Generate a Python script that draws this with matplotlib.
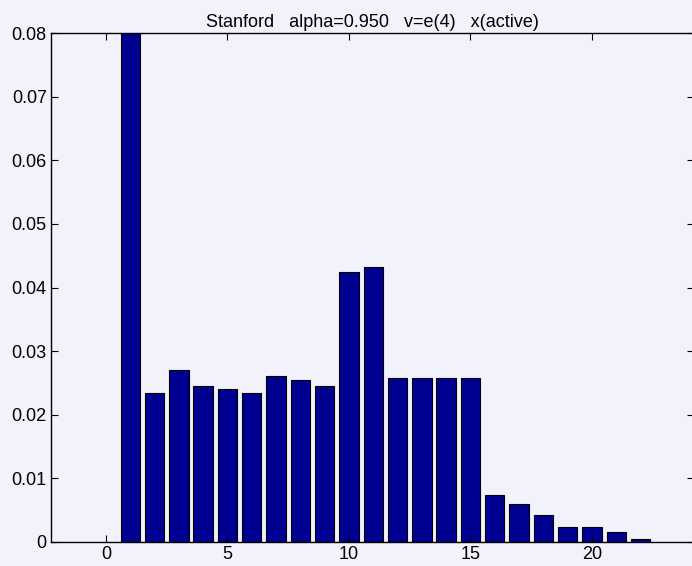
import matplotlib
matplotlib.use("Agg")
import matplotlib.pyplot as plt

plt.rcParams['font.family'] = ['Liberation Sans', 'DejaVu Sans']

positions = list(range(1, 23))
values = [0.105, 0.0234, 0.0270, 0.0245, 0.0240, 0.0234, 0.0261, 0.0254, 0.0245,
          0.0425, 0.0432, 0.0257, 0.0257, 0.0257, 0.0257, 0.0074, 0.0059, 0.0042,
          0.0023, 0.0023, 0.0016, 0.0005]
xticks = [0, 5, 10, 15, 20]
yticks = [0, 0.01, 0.02, 0.03, 0.04, 0.05, 0.06, 0.07, 0.08]
ytick_labels = ['0', '0.01', '0.02', '0.03', '0.04', '0.05', '0.06', '0.07', '0.08']

bg = '#F2F2FC'
fig = plt.figure(figsize=(6.92, 5.66), dpi=100, facecolor=bg)
ax = fig.add_axes([51 / 692, 24 / 566, 643 / 692, 509 / 566])
ax.set_facecolor(bg)

ax.bar(positions, values, width=0.8, color='#000090', edgecolor='black', linewidth=0.8)

ax.set_xlim(-2.26, 24.2)
ax.set_ylim(0, 0.08)
ax.set_xticks(xticks)
ax.set_yticks(yticks)
ax.set_yticklabels(ytick_labels)
ax.tick_params(direction='in', length=5, top=True, right=True, labelsize=13, pad=3)
for s in ax.spines.values():
    s.set_linewidth(1.0)

ax.set_title('Stanford   alpha=0.950   v=e(4)   x(active)', fontsize=13, pad=4)

fig.savefig('out.png', dpi=100, facecolor=bg)
